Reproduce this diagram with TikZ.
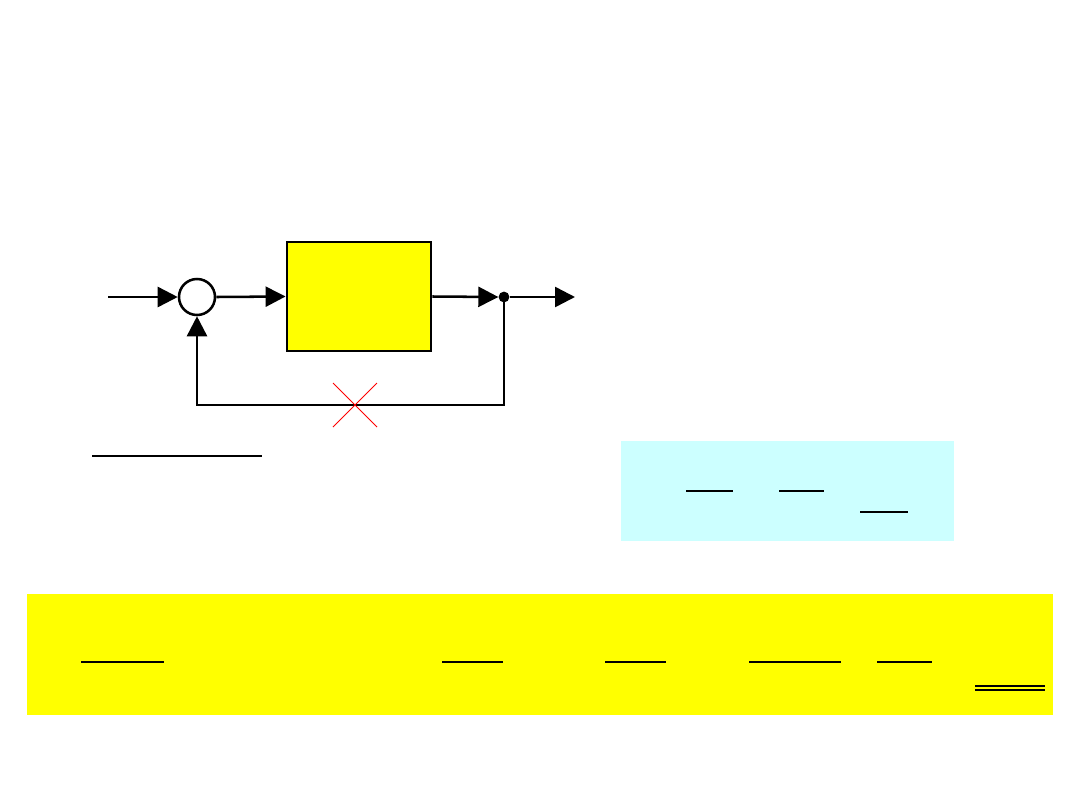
\documentclass[tikz,border=0pt]{standalone}
\usepackage{tikz}
\usetikzlibrary{positioning, arrows.meta, calc}
\definecolor{lightcyan}{HTML}{CCFFFF}
\definecolor{plainyellow}{HTML}{FFFF00}

\begin{document}
\begin{tikzpicture}[x=0.025cm, y=-0.025cm,
  wire/.style={line width=1.8pt},
  sig/.style={wire, -{Triangle[length=0.5cm, width=0.5cm]}},
  bar/.style={line width=1.8pt},
  thinbar/.style={line width=1pt}]
\useasboundingbox (0,0) rectangle (1080,810);

% block diagram
\node[circle, draw, line width=1.8pt, fill=white, minimum size=0.9cm, inner sep=0pt] (sum) at (197,297) {};
\node[draw, line width=2pt, fill=plainyellow, minimum width=3.6cm, minimum height=2.725cm, inner sep=0pt] (plant) at (359,296.5) {};
\node[circle, fill=black, minimum size=0.27cm, inner sep=0pt] (branch) at (504,297) {};
\coordinate (in) at (108,297);
\coordinate (out) at (575,297);
\coordinate (fbr) at (504,405);
\coordinate (fbl) at (197,405);

\draw[sig] (in) -- (sum.west);
\draw[sig] (sum.east) -- (plant.west);
\draw[sig] (plant.east) -- (branch.west);
\draw[sig] (branch.east) -- (out);
\draw[sig] (branch.center) -- (fbr) -- (fbl) -- (sum.south);

% loop opened
\draw[red, line width=0.7pt] (333,383) -- (377,427) (333,427) -- (377,383);

\draw[bar] (92,456) -- (262,456);

% closed-loop result
\fill[lightcyan] (621,441) rectangle (954,541);
\draw[bar] (686,491) -- (733,491);
\draw[bar] (779,491) -- (824,491);
\draw[thinbar] (860,512) -- (908,512);

% error result
\fill[plainyellow] (27,594) rectangle (1053,715);
\draw[bar] (81,662) -- (164,662);
\draw[bar] (442,662) -- (503,662);
\draw[bar] (605,662) -- (666,662);
\draw[bar] (749,662) -- (841,662);
\draw[bar] (877,662) -- (932,662);
\draw[bar] (975,686) -- (1045,686);
\draw[thinbar] (975,690) -- (1045,690);
\end{tikzpicture}
\end{document}
